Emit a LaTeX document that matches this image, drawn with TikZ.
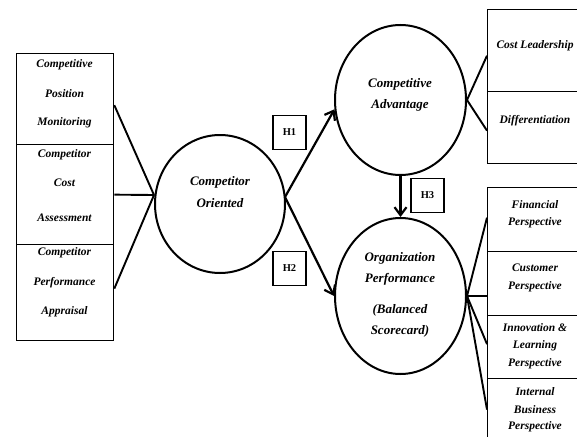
\documentclass[tikz,border=0pt]{standalone}
\usepackage{fontspec}
\setmainfont{Liberation Serif}
\usetikzlibrary{shapes.geometric,arrows.meta,calc}
\begin{document}
\begin{tikzpicture}[x=1pt,y=-1pt,
  boxa/.style={draw,line width=1.3pt,anchor=north west,inner sep=0pt},
  circ/.style={draw,ellipse,line width=2pt,inner sep=0pt},
  link/.style={line width=1.9pt},
  arr/.style={line width=2.2pt,-{Straight Barb[length=8pt,width=12pt,line width=2.2pt]}},
  btxt/.style={font=\fontsize{11.5}{12}\selectfont\bfseries\itshape,inner sep=0pt},
  ctxt/.style={font=\fontsize{13}{14}\selectfont\bfseries\itshape,inner sep=0pt},
  hbox/.style={draw,line width=1.6pt,minimum width=33pt,minimum height=34pt,inner sep=0pt,font=\fontsize{10.5}{11}\selectfont\bfseries},
]
\useasboundingbox (0,0) rectangle (577,436);
% left boxes
\node[boxa,minimum width=97pt,minimum height=91pt] (lb1) at (16,53) {};
\node[boxa,minimum width=97pt,minimum height=100pt] (lb2) at (16,144) {};
\node[boxa,minimum width=97pt,minimum height=96pt] (lb3) at (16,244) {};
\node[btxt] (t11) at (64.5,65) {Competitive};
\node[btxt] (t12) at (64.5,94) {Position};
\node[btxt] (t13) at (64.5,123) {Monitoring};
\node[btxt] (t21) at (64.5,155) {Competitor};
\node[btxt] (t22) at (64.5,183) {Cost};
\node[btxt] (t23) at (64.5,218) {Assessment};
\node[btxt] (t31) at (64.5,253) {Competitor};
\node[btxt] (t32) at (64.5,283) {Performance};
\node[btxt] (t33) at (64.5,312) {Appraisal};
% circles
\node[circ,minimum width=130pt,minimum height=138pt] (co) at (220,204) {};
\node[ctxt] (co1) at (220,182) {Competitor};
\node[ctxt] (co2) at (220,203) {Oriented};
\node[circ,minimum width=131pt,minimum height=150pt] (ca) at (400.5,100) {};
\node[ctxt] (ca1) at (400,84) {Competitive};
\node[ctxt] (ca2) at (400,105) {Advantage};
\node[circ,minimum width=131pt,minimum height=156pt] (op) at (400.5,296) {};
\node[ctxt] (op1) at (400,258) {Organization};
\node[ctxt] (op2) at (400,279) {Performance};
\node[ctxt] (op3) at (400,310) {(Balanced};
\node[ctxt] (op4) at (400,331) {Scorecard)};
% right boxes
\node[boxa,minimum width=96pt,minimum height=82pt] (rb1) at (487,9) {};
\node[boxa,minimum width=96pt,minimum height=72pt] (rb2) at (487,91) {};
\node[btxt] (r1) at (535,46) {Cost Leadership};
\node[btxt] (r2) at (535,121) {Differentiation};
\node[boxa,minimum width=96pt,minimum height=64pt] (fb) at (487,187) {};
\node[boxa,minimum width=96pt,minimum height=64pt] (cb) at (487,251) {};
\node[boxa,minimum width=96pt,minimum height=63pt] (ib) at (487,315) {};
\node[boxa,minimum width=96pt,minimum height=70pt] (bb) at (487,378) {};
\node[btxt] (f1) at (535,205) {Financial};
\node[btxt] (f2) at (535,223) {Perspective};
\node[btxt] (c1) at (535,268) {Customer};
\node[btxt] (c2) at (535,287) {Perspective};
\node[btxt] (i1) at (535,328) {Innovation \&};
\node[btxt] (i2) at (535,346) {Learning};
\node[btxt] (i3) at (535,364) {Perspective};
\node[btxt] (b1) at (535,392) {Internal};
\node[btxt] (b2) at (535,410) {Business};
\node[btxt] (b3) at (535,427) {Perspective};
% hypothesis boxes
\node[hbox] (h1) at (289.5,132.5) {H1};
\node[hbox] (h2) at (289.5,268.5) {H2};
\node[hbox] (h3) at (427.5,195.5) {H3};
% connectors
\coordinate (cj) at (154,195);
\draw[link] ([yshift=-6pt]lb1.east) -- (cj);
\draw[link] (lb2.east) -- (cj);
\draw[link] ([yshift=4pt]lb3.east) -- (cj);
\coordinate (cr) at (285,197);
\draw[arr] (cr) -- (ca.188);
\draw[arr] (cr) -- (op.180);
\draw[arr] (ca.south) -- (op.north);
\draw[link] (ca.east) -- ([yshift=-5pt]rb1.west);
\draw[link] (ca.east) -- ([yshift=-3pt]rb2.west);
\draw[link] (op.east) -- ([yshift=2pt]fb.west);
\draw[link] (op.east) -- (op.east -| cb.west);
\draw[link] (op.east) -- ([yshift=3pt]ib.west);
\draw[link] (op.east) -- ([yshift=4pt]bb.west);
\end{tikzpicture}
\end{document}
